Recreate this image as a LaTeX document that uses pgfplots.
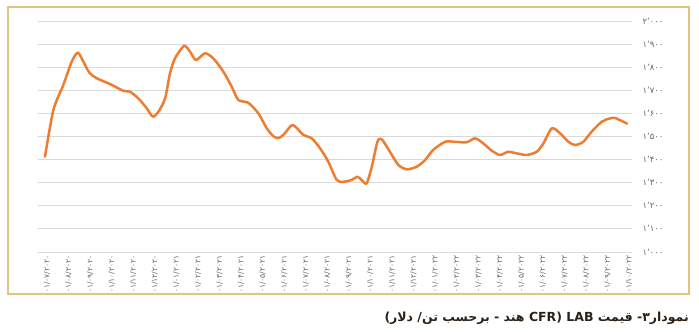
\documentclass[border=0pt]{standalone}
\usepackage{pgfplots}
\pgfplotsset{compat=1.18}
\usepackage{fontspec}
\setmainfont{DejaVu Sans}
\newfontfamily\arabicfont[Script=Arabic]{DejaVu Sans}
\newfontfamily\digitfont{DejaVu Sans}
\TeXXeTstate=1
\definecolor{lineor}{RGB}{237,125,49}
\definecolor{gridc}{RGB}{217,217,217}
\definecolor{framec}{RGB}{224,197,128}
\definecolor{tickc}{RGB}{100,100,100}
\definecolor{titlec}{RGB}{45,32,22}
\begin{document}
\begin{tikzpicture}[x=1pt,y=1pt]
\path[use as bounding box] (0,0) rectangle (699,332);
\draw[framec, line width=2pt] (8,38) rectangle (689,325);
\begin{axis}[at={(38pt,80pt)}, anchor=south west, scale only axis,
  width=594pt, height=231pt,
  xmin=-0.325, xmax=27.23, ymin=1000, ymax=2000,
  ytick={1000,1100,...,2000},
  yticklabels={۱٬۰۰۰,۱٬۱۰۰,۱٬۲۰۰,۱٬۳۰۰,۱٬۴۰۰,۱٬۵۰۰,۱٬۶۰۰,۱٬۷۰۰,۱٬۸۰۰,۱٬۹۰۰,۲٬۰۰۰},
  yticklabel pos=right,
  yticklabel style={anchor=west, xshift=7pt, font=\digitfont\fontsize{8.5}{9}\selectfont, text=tickc},
  ymajorgrids, grid style={gridc, line width=0.8pt},
  axis line style={draw=none}, tick style={draw=none},
  xtick={0,1,...,27},
  xticklabels={۰۱/۰۷/۲۰۲۰,۰۱/۰۸/۲۰۲۰,۰۱/۰۹/۲۰۲۰,۰۱/۱۰/۲۰۲۰,۰۱/۱۱/۲۰۲۰,۰۱/۱۲/۲۰۲۰,
    ۰۱/۰۱/۲۰۲۱,۰۱/۰۲/۲۰۲۱,۰۱/۰۳/۲۰۲۱,۰۱/۰۴/۲۰۲۱,۰۱/۰۵/۲۰۲۱,۰۱/۰۶/۲۰۲۱,۰۱/۰۷/۲۰۲۱,۰۱/۰۸/۲۰۲۱,۰۱/۰۹/۲۰۲۱,۰۱/۱۰/۲۰۲۱,۰۱/۱۱/۲۰۲۱,۰۱/۱۲/۲۰۲۱,
    ۰۱/۰۱/۲۰۲۲,۰۱/۰۲/۲۰۲۲,۰۱/۰۳/۲۰۲۲,۰۱/۰۴/۲۰۲۲,۰۱/۰۵/۲۰۲۲,۰۱/۰۶/۲۰۲۲,۰۱/۰۷/۲۰۲۲,۰۱/۰۸/۲۰۲۲,۰۱/۰۹/۲۰۲۲,۰۱/۱۰/۲۰۲۲},
  xticklabel style={rotate=90, anchor=east, yshift=-2pt, font=\digitfont\fontsize{7.5}{8}\selectfont, text=tickc},
  clip=false]
\addplot[lineor, line width=2.5pt, smooth, tension=0.45, line join=round, line cap=round] coordinates {
(0,1413) (0.39,1615) (0.85,1723) (1.24,1824) (1.52,1863) (1.78,1824) (2.06,1776)
(2.40,1752) (3.02,1727) (3.63,1698) (3.94,1694) (4.33,1665) (4.72,1622) (5.00,1586)
(5.26,1607) (5.57,1665) (5.80,1774) (6.03,1838) (6.45,1892) (6.73,1867) (7.00,1831)
(7.42,1860) (7.81,1838) (8.27,1781) (8.66,1716) (8.97,1658) (9.43,1646) (9.90,1600)
(10.29,1535) (10.62,1499) (10.86,1494) (11.13,1514) (11.49,1550) (11.98,1507)
(12.37,1492) (12.76,1449) (13.14,1391) (13.53,1312) (13.84,1304) (14.23,1312)
(14.49,1326) (14.69,1312) (14.92,1297) (15.16,1369) (15.42,1477) (15.62,1488)
(16.00,1434) (16.39,1377) (16.78,1358) (17.24,1369) (17.63,1398) (18.01,1442)
(18.56,1477) (19.02,1477) (19.56,1475) (19.95,1492) (20.33,1470) (20.72,1439)
(21.11,1420) (21.49,1434) (21.88,1427) (22.35,1420) (22.81,1434) (23.12,1470)
(23.51,1535) (23.89,1514) (24.28,1477) (24.59,1463) (24.97,1477) (25.36,1521)
(25.83,1564) (26.20,1578) (26.45,1580) (27.00,1556)
};
\end{axis}
\node[anchor=base east, inner sep=0pt, font=\arabicfont\bfseries\fontsize{12.5}{14}\selectfont, text=titlec]
  at (689,10) {\beginR نمودار۳- قیمت \beginL LAB\endL{} (\beginL CFR\endL{} هند - برحسب تن/ دلار)\endR};
\end{tikzpicture}
\end{document}
